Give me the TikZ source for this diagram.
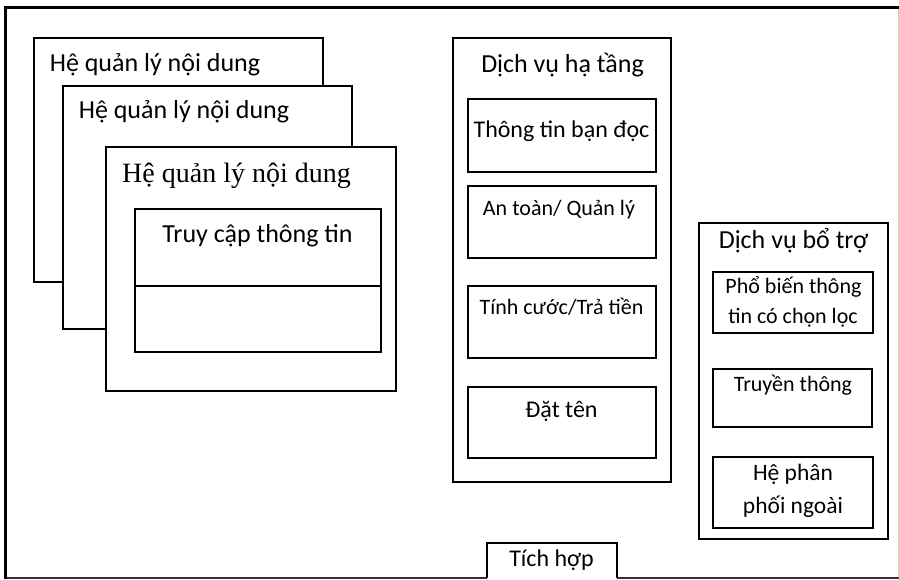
\documentclass[tikz,border=0pt]{standalone}
\usepackage{fontspec}
\setmainfont{Carlito}
\newfontfamily\timesf{Liberation Serif}
\begin{document}
\begin{tikzpicture}[x=1pt,y=-1pt,
  box/.style={draw, line width=1.3pt, fill=white, inner sep=0pt, outer sep=0pt},
  lbl/.style={anchor=base, inner sep=0pt, font=\fontsize{24}{29}\selectfont},
  big/.style={lbl, font=\fontsize{26}{31}\selectfont},
  small/.style={lbl, font=\fontsize{22}{27}\selectfont},
  mid/.style={lbl, font=\fontsize{23.5}{28}\selectfont}]
\useasboundingbox (0,0) rectangle (899,579);
% frame
\draw[line width=3pt] (4,7.5) -- (899,7.5);
\draw[line width=3pt] (5.5,6) -- (5.5,579);
\draw[line width=0.8pt, black!20] (898.5,9) -- (898.5,578);
\draw[line width=1.5pt, black!80] (7,578) -- (487,578);
\draw[line width=1.5pt, black!80] (617,578) -- (899,578);
% tab
\draw[line width=1.3pt] (487,578) -- (487,543) -- (617,543) -- (617,578);
\node[lbl] (tab) at (551.5,566) {Tích hợp};
% stacked content managers
\node[box, minimum width=289pt, minimum height=244pt] (b1) at (178.5,160) {};
\node[big] (t1) at (155,71) {Hệ quản lý nội dung};
\node[box, minimum width=289pt, minimum height=243pt] (b2) at (207.5,207.5) {};
\node[big] (t2) at (184,118) {Hệ quản lý nội dung};
\node[box, minimum width=290pt, minimum height=244pt] (b3) at (251,269) {};
\node[lbl, font=\timesf\fontsize{28}{32}\selectfont] (t3) at (236.5,182) {Hệ quản lý nội dung};
\node[box, minimum width=246pt, minimum height=143pt] (acc) at (258,280.5) {};
\draw[line width=1.3pt] (acc.west |- 0,286) -- (acc.east |- 0,286);
\node[big] (tacc) at (257.5,242) {Truy cập thông tin};
% infrastructure
\node[box, minimum width=218pt, minimum height=444pt] (inf) at (562,260) {};
\node[big] (tinf) at (562.5,72) {Dịch vụ hạ tầng};
\node[box, minimum width=188pt, minimum height=73pt] (s1) at (562,135.5) {};
\node[lbl] (ts1) at (561.5,137) {Thông tin bạn đọc};
\node[box, minimum width=188pt, minimum height=72pt] (s2) at (562,222) {};
\node[small] (ts2) at (559,215) {An toàn/ Quản lý};
\node[box, minimum width=188pt, minimum height=72pt] (s3) at (562,322) {};
\node[small] (ts3) at (561.5,314) {Tính cước/Trả tiền};
\node[box, minimum width=188pt, minimum height=71pt] (s4) at (562,422.5) {};
\node[lbl] (ts4) at (561.5,417) {Đặt tên};
% auxiliary
\node[box, minimum width=189pt, minimum height=316pt] (aux) at (793.5,381) {};
\node[big] (taux) at (793.5,248) {Dịch vụ bổ trợ};
\node[box, minimum width=160pt, minimum height=61pt] (a1) at (793,302.5) {};
\node[small] (ta1a) at (793.5,293) {Phổ biến thông};
\node[small] (ta1b) at (793,323) {tin có chọn lọc};
\node[box, minimum width=159pt, minimum height=58pt] (a2) at (792.5,398) {};
\node[small] (ta2) at (793,391) {Truyền thông};
\node[box, minimum width=160pt, minimum height=71pt] (a3) at (793,492.5) {};
\node[mid] (ta3a) at (793,480) {Hệ phân};
\node[mid] (ta3b) at (793,513) {phối ngoài};
\end{tikzpicture}
\end{document}
